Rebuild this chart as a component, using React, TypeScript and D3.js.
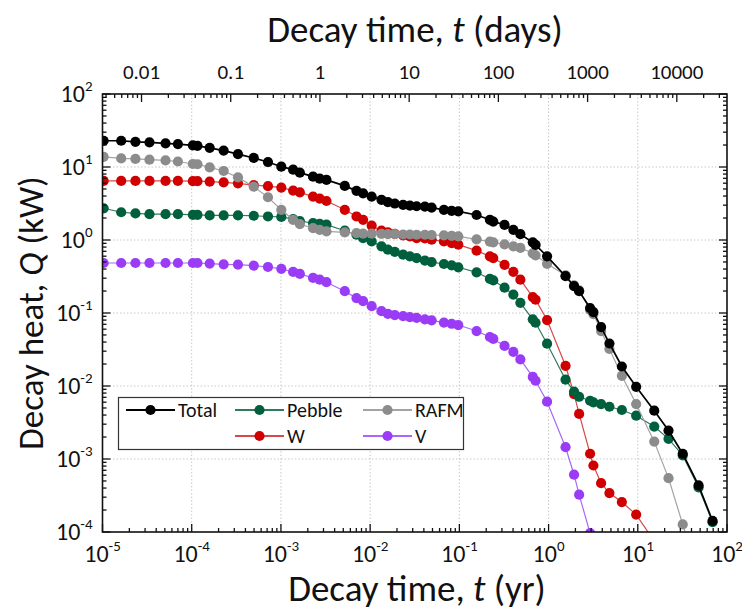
import React from 'react';
import * as d3 from 'd3';

// Decay time (yr)
const timeYr = [1.03e-5, 1.62e-5, 2.34e-5, 3.36e-5, 5.09e-5, 7.0e-5, 1.03e-4, 1.16e-4, 1.59e-4, 2.28e-4,
  3.30e-4, 4.96e-4, 7.16e-4, 1.01e-3, 1.37e-3, 1.63e-3, 2.29e-3, 2.72e-3, 3.24e-3, 5.20e-3,
  7.03e-3, 8.34e-3, 1.04e-2, 1.34e-2, 1.58e-2, 1.89e-2, 2.34e-2, 2.79e-2, 3.32e-2, 4.11e-2,
  4.89e-2, 6.71e-2, 8.20e-2, 9.73e-2, 0.156, 0.220, 0.240, 0.321, 0.403, 0.483,
  0.665, 0.715, 0.962, 1.55, 1.93, 2.20, 2.92, 3.18, 3.88, 4.81,
  6.63, 9.59, 15.3, 22.1, 31.9, 48.0, 68.9];

// Decay heat (kW)
const totalQ = [22.9, 22.9, 22.1, 21.8, 21.1, 20.6, 19.8, 19.5, 18.3, 16.8,
  15.0, 13.3, 11.7, 10.1, 9.19, 8.36, 7.37, 6.92, 6.65, 5.51,
  4.71, 4.36, 3.93, 3.55, 3.31, 3.16, 3.03, 2.96, 2.90, 2.87,
  2.78, 2.59, 2.51, 2.46, 2.20, 1.89, 1.79, 1.61, 1.38, 1.20,
  0.928, 0.857, 0.597, 0.319, 0.233, 0.199, 0.117, 0.103, 0.0642, 0.0382,
  0.0185, 0.00975, 0.00459, 0.00245, 0.00118, 0.000435, 0.000142];

const pebbleQ = [2.72, 2.40, 2.31, 2.26, 2.26, 2.26, 2.21, 2.21, 2.17, 2.17,
  2.17, 2.15, 2.10, 2.07, 1.93, 1.82, 1.70, 1.67, 1.62, 1.34,
  1.18, 1.06, 0.957, 0.818, 0.737, 0.688, 0.630, 0.597, 0.566, 0.522,
  0.499, 0.469, 0.450, 0.423, 0.361, 0.293, 0.279, 0.222, 0.179, 0.138,
  0.0818, 0.0735, 0.0380, 0.0122, 0.00841, 0.00712, 0.00628, 0.00595, 0.00566, 0.00520,
  0.00469, 0.00392, 0.00278, 0.00189, 0.00112, 0.000408, 0.000136];

const rafmQ = [13.8, 13.1, 12.9, 12.6, 12.3, 11.9, 11.0, 10.9, 9.87, 8.82,
  7.21, 5.38, 3.85, 2.59, 1.89, 1.65, 1.45, 1.38, 1.31, 1.27,
  1.24, 1.22, 1.22, 1.21, 1.20, 1.20, 1.19, 1.19, 1.18, 1.18,
  1.17, 1.16, 1.14, 1.12, 1.02, 0.948, 0.928, 0.871, 0.818, 0.780,
  0.657, 0.617, 0.472, 0.329, 0.240, 0.205, 0.110, 0.0966, 0.0566, 0.0322,
  0.0138, 0.00566, 0.00173, 0.000547, 0.000127, 0.0000257, null];

const wQ = [6.44, 6.44, 6.44, 6.44, 6.44, 6.44, 6.40, 6.40, 6.30, 6.17,
  5.97, 5.65, 5.47, 5.22, 4.75, 4.50, 3.93, 3.69, 3.42, 2.59,
  2.10, 1.89, 1.57, 1.34, 1.27, 1.21, 1.16, 1.12, 1.06, 1.05,
  1.01, 0.957, 0.907, 0.863, 0.715, 0.597, 0.566, 0.457, 0.367, 0.286,
  0.165, 0.152, 0.0800, 0.0189, 0.00775, 0.00414, 0.00118, 0.000815, 0.000467, 0.000341,
  0.000257, 0.000173, 0.0000749, null, null, null, null];

const vQ = [0.484, 0.484, 0.484, 0.484, 0.484, 0.484, 0.484, 0.484, 0.475, 0.465,
  0.460, 0.446, 0.427, 0.403, 0.365, 0.343, 0.302, 0.286, 0.264, 0.199,
  0.160, 0.145, 0.124, 0.106, 0.0975, 0.0936, 0.0907, 0.0879, 0.0860, 0.0818,
  0.0793, 0.0739, 0.0712, 0.0684, 0.0566, 0.0469, 0.0441, 0.0354, 0.0293, 0.0231,
  0.0133, 0.0118, 0.00609, 0.00145, 0.000609, 0.000325, 0.0000963, null, null, null,
  null, null, null, null, null, null, null];

const yrTickExps = [-5, -4, -3, -2, -1, 0, 1, 2];
const qTickExps = [-4, -3, -2, -1, 0, 1, 2];
const dayTicks = [0.01, 0.1, 1, 10, 100, 1000, 10000];
const dayTickLabels = ['0.01', '0.1', '1', '10', '100', '1000', '10000'];
const DAYS_PER_YEAR = 365.25;

const W = 742, H = 610;
const L = 102.5, R = 727, T = 94, B = 532;
const FONT = 'Carlito, Calibri, Lato, sans-serif';

const styles: Record<string, { line: string; marker: string; width: number }> = {
  Total: { line: '#000000', marker: '#000000', width: 1.7 },
  Pebble: { line: '#2f7a5a', marker: '#00603e', width: 1.2 },
  RAFM: { line: '#a3a3a3', marker: '#8c8c8c', width: 1.2 },
  W: { line: '#d84a4a', marker: '#d00000', width: 1.2 },
  V: { line: '#a868f8', marker: '#9a3cf5', width: 1.2 },
};

export default function App() {
  const x = d3.scaleLog().domain([1e-5, 1e2]).range([L, R]);
  const y = d3.scaleLog().domain([1e-4, 1e2]).range([B, T]);

  const valuesByName: Record<string, (number | null)[]> = {
    Total: totalQ, Pebble: pebbleQ, RAFM: rafmQ, W: wQ, V: vQ,
  };

  const line = d3.line<[number, number | null]>()
    .defined(d => d[1] != null)
    .x(d => x(d[0]))
    .y(d => y(d[1] as number));

  const xMinor: number[] = [];
  for (let e = -5; e < 2; e++) for (let k = 2; k <= 9; k++) xMinor.push(k * Math.pow(10, e));
  const yMinor: number[] = [];
  for (let e = -4; e < 2; e++) for (let k = 2; k <= 9; k++) yMinor.push(k * Math.pow(10, e));
  const dMinor: number[] = [];
  for (let e = -3; e <= 4; e++) for (let k = 2; k <= 9; k++) {
    const d = k * Math.pow(10, e);
    const t = d / DAYS_PER_YEAR;
    if (t >= 1e-5 && t <= 1e2) dMinor.push(d);
  }

  // drawing order: Total on top
  const order = ['V', 'W', 'Pebble', 'RAFM', 'Total'];

  const legendItems = [
    { name: 'Total', lx: 126, ly: 410 },
    { name: 'Pebble', lx: 235, ly: 410 },
    { name: 'RAFM', lx: 363, ly: 410 },
    { name: 'W', lx: 235, ly: 436 },
    { name: 'V', lx: 363, ly: 436 },
  ];

  const R_MK = 5.1;

  return (
    <svg width={W} height={H} style={{ position: 'absolute', left: 0, top: 0, background: '#fff' }}
      fontFamily={FONT}>
      <defs>
        <clipPath id="plotClip">
          <rect x={L} y={T} width={R - L} height={B - T} />
        </clipPath>
      </defs>
      <rect x={0} y={0} width={W} height={H} fill="#fff" />

      {/* grid */}
      <g stroke="#c8c8c8" strokeWidth={1} strokeDasharray="1.5,2">
        {yrTickExps.slice(1, -1).map(e => (
          <line key={'gx' + e} x1={x(Math.pow(10, e))} x2={x(Math.pow(10, e))} y1={T} y2={B} />
        ))}
        {qTickExps.slice(1, -1).map(e => (
          <line key={'gy' + e} x1={L} x2={R} y1={y(Math.pow(10, e))} y2={y(Math.pow(10, e))} />
        ))}
      </g>

      {/* series */}
      <g clipPath="url(#plotClip)">
        {order.map(name => {
          const vals = valuesByName[name];
          const pts = timeYr.map((t, i) => [t, vals[i]] as [number, number | null]);
          const st = styles[name];
          return (
            <g key={name}>
              <path d={line(pts) || ''} fill="none" stroke={st.line} strokeWidth={st.width} />
              {pts.filter(p => p[1] != null).map((p, i) => (
                <circle key={i} cx={x(p[0])} cy={y(p[1] as number)} r={R_MK} fill={st.marker} />
              ))}
            </g>
          );
        })}
      </g>

      {/* axes frame */}
      <rect x={L} y={T} width={R - L} height={B - T} fill="none" stroke="#111" strokeWidth={1.6} />

      <g stroke="#111" strokeWidth={1.3}>
        {yrTickExps.map(e => (
          <line key={'bx' + e} x1={x(Math.pow(10, e))} x2={x(Math.pow(10, e))} y1={B} y2={B - 8} />
        ))}
        {xMinor.map((v, i) => (
          <line key={'bm' + i} x1={x(v)} x2={x(v)} y1={B} y2={B - 4} />
        ))}
        {qTickExps.map(e => (
          <g key={'qy' + e}>
            <line x1={L} x2={L + 8} y1={y(Math.pow(10, e))} y2={y(Math.pow(10, e))} />
            <line x1={R} x2={R - 8} y1={y(Math.pow(10, e))} y2={y(Math.pow(10, e))} />
          </g>
        ))}
        {yMinor.map((v, i) => (
          <g key={'qm' + i}>
            <line x1={L} x2={L + 4} y1={y(v)} y2={y(v)} />
            <line x1={R} x2={R - 4} y1={y(v)} y2={y(v)} />
          </g>
        ))}
        {dayTicks.map(d => (
          <line key={'td' + d} x1={x(d / DAYS_PER_YEAR)} x2={x(d / DAYS_PER_YEAR)} y1={T} y2={T + 8} />
        ))}
        {dMinor.map((d, i) => (
          <line key={'tm' + i} x1={x(d / DAYS_PER_YEAR)} x2={x(d / DAYS_PER_YEAR)} y1={T} y2={T + 4} />
        ))}
      </g>

      {/* y tick labels */}
      <g fill="#111" fontSize={24}>
        {qTickExps.map(e => (
          <text key={'yl' + e} x={L - 10} y={y(Math.pow(10, e)) + 8} textAnchor="end">
            10<tspan dy={-11} fontSize={15}>{e}</tspan>
          </text>
        ))}
      </g>

      {/* x tick labels (yr) */}
      <g fill="#111" fontSize={24}>
        {yrTickExps.map(e => (
          <text key={'xl' + e} x={x(Math.pow(10, e))} y={562} textAnchor="middle">
            10<tspan dy={-11} fontSize={15}>{e}</tspan>
          </text>
        ))}
      </g>

      {/* top tick labels (days) */}
      <g fill="#111" fontSize={21}>
        {dayTicks.map((d, i) => (
          <text key={'dl' + d} x={x(d / DAYS_PER_YEAR)} y={79} textAnchor="middle">{dayTickLabels[i]}</text>
        ))}
      </g>

      {/* titles */}
      <text x={415} y={42} textAnchor="middle" fontSize={37} fill="#111">
        Decay time, <tspan fontStyle="italic">t</tspan> (days)
      </text>
      <text x={417} y={601} textAnchor="middle" fontSize={37} fill="#111">
        Decay time, <tspan fontStyle="italic">t</tspan> (yr)
      </text>
      <text transform={`translate(43,${(T + B) / 2}) rotate(-90)`} textAnchor="middle" fontSize={35} fill="#111">
        Decay heat, <tspan fontStyle="italic">Q</tspan> (kW)
      </text>

      {/* legend */}
      <rect x={118.5} y={397.5} width={345} height={52} fill="#fff" stroke="#333" strokeWidth={1.2} />
      {legendItems.map(it => {
        const st = styles[it.name];
        return (
          <g key={'lg' + it.name}>
            <line x1={it.lx} x2={it.lx + 49} y1={it.ly} y2={it.ly} stroke={st.line} strokeWidth={1.8} />
            <circle cx={it.lx + 24.5} cy={it.ly} r={R_MK} fill={st.marker} />
            <text x={it.lx + 52} y={it.ly + 7} fontSize={20} fill="#111">{it.name}</text>
          </g>
        );
      })}
    </svg>
  );
}
